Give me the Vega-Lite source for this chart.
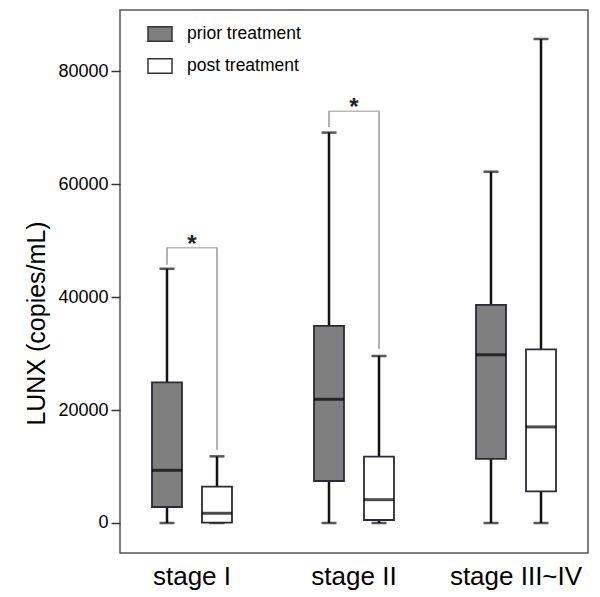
{
  "$schema": "https://vega.github.io/schema/vega-lite/v6.json",
  "autosize": "none",
  "width": 468,
  "height": 543,
  "padding": {"left": 120, "top": 10, "right": 12, "bottom": 44},
  "background": "white",
  "config": {
    "font": "Liberation Sans",
    "view": {"stroke": "#555555", "strokeWidth": 1.5}
  },
  "datasets": {
    "boxes": [
      {"stage": "stage I", "group": "prior treatment", "min": 0, "q1": 2830, "median": 9330, "q3": 24900, "max": 45000},
      {"stage": "stage I", "group": "post treatment", "min": 0, "q1": 50, "median": 1720, "q3": 6430, "max": 11800},
      {"stage": "stage II", "group": "prior treatment", "min": 0, "q1": 7430, "median": 21900, "q3": 34900, "max": 69100},
      {"stage": "stage II", "group": "post treatment", "min": 0, "q1": 530, "median": 4130, "q3": 11740, "max": 29560},
      {"stage": "stage III~IV", "group": "prior treatment", "min": 0, "q1": 11350, "median": 29770, "q3": 38620, "max": 62180},
      {"stage": "stage III~IV", "group": "post treatment", "min": 0, "q1": 5610, "median": 17010, "q3": 30730, "max": 85670}
    ],
    "legs": [
      {"stage": "stage I", "group": "prior treatment", "low": 45700, "top": 48700},
      {"stage": "stage I", "group": "post treatment", "low": 12900, "top": 48700},
      {"stage": "stage II", "group": "prior treatment", "low": 70100, "top": 72900},
      {"stage": "stage II", "group": "post treatment", "low": 30800, "top": 72900}
    ],
    "sig": [
      {"stage": "stage I", "top": 48700, "mark": "*"},
      {"stage": "stage II", "top": 72900, "mark": "*"}
    ]
  },
  "encoding": {
    "x": {
      "field": "stage",
      "type": "nominal",
      "scale": {"domain": ["stage I", "stage II", "stage III~IV"], "range": [-9, 477], "paddingInner": 0, "paddingOuter": 0},
      "axis": {"title": null, "domain": false, "ticks": false, "labelAngle": 0, "labelFontSize": 26, "labelPadding": 10, "labelColor": "#000000"}
    }
  },
  "layer": [
    {
      "data": {"name": "legs"},
      "mark": {"type": "rule", "color": "#9a9a9a", "strokeWidth": 1.5},
      "encoding": {
        "xOffset": {"field": "group", "type": "nominal", "scale": {"domain": ["prior treatment", "post treatment"], "paddingInner": 0.4, "paddingOuter": 0.82}},
        "y": {"field": "low", "type": "quantitative"},
        "y2": {"field": "top"}
      }
    },
    {
      "data": {"name": "sig"},
      "mark": {"type": "tick", "color": "#9a9a9a", "thickness": 1.5, "size": 51},
      "encoding": {
        "y": {"field": "top", "type": "quantitative"}
      }
    },
    {
      "data": {"name": "sig"},
      "mark": {"type": "text", "fontSize": 24, "fontWeight": "bold", "baseline": "alphabetic", "dy": 4, "color": "#222222"},
      "encoding": {
        "y": {"field": "top", "type": "quantitative"},
        "text": {"field": "mark"}
      }
    },
    {
      "data": {"name": "boxes"},
      "mark": {"type": "rule", "color": "#111111", "strokeWidth": 2.5},
      "encoding": {
        "xOffset": {"field": "group", "type": "nominal", "scale": {"domain": ["prior treatment", "post treatment"], "paddingInner": 0.4, "paddingOuter": 0.82}},
        "y": {"field": "min", "type": "quantitative"},
        "y2": {"field": "max"}
      }
    },
    {
      "data": {"name": "boxes"},
      "mark": {"type": "tick", "color": "#111111", "thickness": 2.5, "size": 15},
      "encoding": {
        "xOffset": {"field": "group", "type": "nominal", "scale": {"domain": ["prior treatment", "post treatment"], "paddingInner": 0.4, "paddingOuter": 0.82}},
        "y": {"field": "min", "type": "quantitative"}
      }
    },
    {
      "data": {"name": "boxes"},
      "mark": {"type": "tick", "color": "#111111", "thickness": 2.5, "size": 15},
      "encoding": {
        "xOffset": {"field": "group", "type": "nominal", "scale": {"domain": ["prior treatment", "post treatment"], "paddingInner": 0.4, "paddingOuter": 0.82}},
        "y": {"field": "max", "type": "quantitative"}
      }
    },
    {
      "data": {"name": "boxes"},
      "mark": {"type": "bar", "stroke": "#2b2b35", "strokeWidth": 1.8, "opacity": 1},
      "encoding": {
        "xOffset": {"field": "group", "type": "nominal", "scale": {"domain": ["prior treatment", "post treatment"], "paddingInner": 0.4, "paddingOuter": 0.82}},
        "y": {
          "field": "q1",
          "type": "quantitative",
          "scale": {"domain": [-5310, 90800], "nice": false, "zero": false},
          "axis": {
            "title": "LUNX (copies/mL)",
            "titleFontSize": 25,
            "titleFontWeight": "normal",
            "titleColor": "#000000",
            "titlePadding": 8,
            "titleY": 313,
            "values": [0, 20000, 40000, 60000, 80000],
            "format": "d",
            "labelFontSize": 18,
            "labelColor": "#000000",
            "labelPadding": 3,
            "tickSize": 9,
            "tickWidth": 1.5,
            "tickColor": "#333333",
            "domain": false,
            "grid": false
          }
        },
        "y2": {"field": "q3"},
        "fill": {
          "field": "group",
          "type": "nominal",
          "scale": {"domain": ["prior treatment", "post treatment"], "range": ["#7f7f7f", "#ffffff"]},
          "legend": {
            "title": null,
            "orient": "none",
            "legendX": 27,
            "legendY": 11,
            "symbolType": "M-1,-0.6H1V0.6H-1Z",
            "symbolSize": 576,
            "symbolStrokeColor": "#333333",
            "symbolStrokeWidth": 1.5,
            "labelFontSize": 17.5,
            "labelColor": "#000000",
            "labelOffset": 14,
            "rowPadding": 8
          }
        }
      }
    },
    {
      "data": {"name": "boxes"},
      "mark": {"type": "tick", "color": "#000000", "thickness": 3, "size": 30},
      "encoding": {
        "xOffset": {"field": "group", "type": "nominal", "scale": {"domain": ["prior treatment", "post treatment"], "paddingInner": 0.4, "paddingOuter": 0.82}},
        "y": {"field": "median", "type": "quantitative"}
      }
    }
  ]
}
